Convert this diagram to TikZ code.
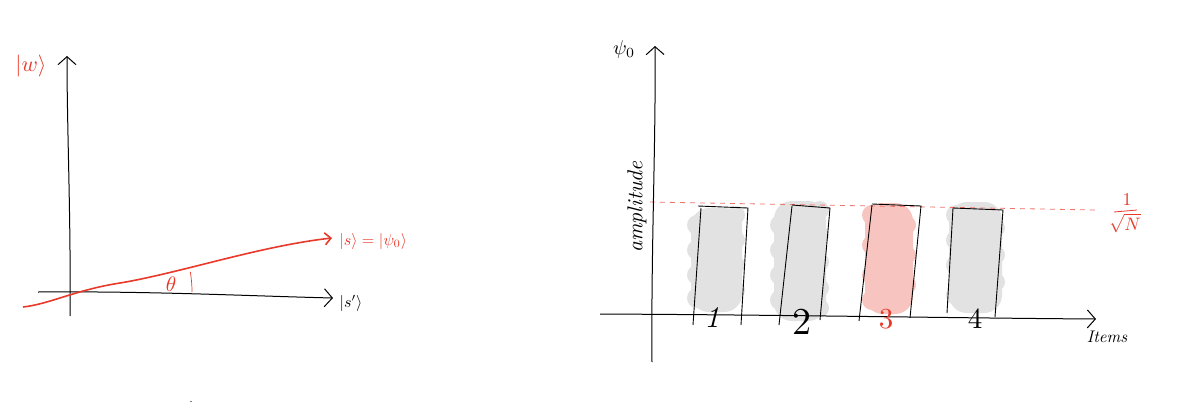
\documentclass[tikz,border=0pt]{standalone}
\usetikzlibrary{arrows.meta}
\definecolor{rd}{HTML}{E8392A}
\definecolor{blobg}{HTML}{E2E2E2}
\definecolor{blobp}{HTML}{F7C4BF}
\begin{document}
\begin{tikzpicture}[x=1pt,y=-1pt,
  ax/.style={line width=1pt,black,-{Straight Barb[length=8pt,width=18pt]}},
  redax/.style={line width=1.6pt,rd,-{Straight Barb[length=6pt,width=12pt]}},
  barline/.style={line width=0.9pt,black},
  lbl/.style={inner sep=0pt,font=\normalsize},
  rlbl/.style={lbl,text=rd}
]
\useasboundingbox[fill=white] (0,0) rectangle (1195,416);

% ---------- left chart ----------
\coordinate (lyb) at (70,316);
\coordinate (lyt) at (67,56);
\coordinate (lxl) at (38,292);
\coordinate (lxr) at (333,298);
\draw[ax] (lyb) .. controls (71,220) and (67,130) .. (lyt);
\draw[ax] (lxl) .. controls (150,291) and (250,296) .. (lxr);
\coordinate (rs) at (23,307);
\coordinate (re) at (332,238);
\draw[redax] (rs) .. controls (50,304) and (75,290) .. (120,283) .. controls (180,273) and (260,246) .. (re);
\draw[rd,line width=0.7pt] (192,292) arc[start angle=0,end angle=-9.5,radius=122];
\node[rlbl,scale=2.1] (theta) at (171,284) {$\theta$};
\node[rlbl,scale=2.2] (w) at (31,66) {$|w\rangle$};
\node[lbl,scale=1.6] (sp) at (351,303) {$|s'\rangle$};
\node[rlbl,anchor=west,scale=1.6] (s) at (339,241) {$|s\rangle = |\psi_0\rangle$};
\fill[gray] (189.5,400.5) rectangle (191.5,402) coordinate (dot);

% ---------- right chart ----------
\coordinate (ryb) at (652,362);
\coordinate (ryt) at (655,46);
\coordinate (rxl) at (600,314);
\coordinate (rxr) at (1096,319);

% blobs
\begin{scope}[blobg]
\fill[rounded corners=18] (691,208) rectangle (742,312);
\foreach \y in {225,250,275,298} {\fill (697,\y) circle (10);}
\foreach \y in {215,240,265,290} {\fill (736,\y) circle (9);}
\fill[rounded corners=18] (774,201) rectangle (826,321);
\foreach \y in {225,250,275,300} {\fill (780,\y) circle (10);}
\foreach \y in {210,235,262,288,308} {\fill (820,\y) circle (9);}
\fill[rounded corners=18] (949,202) rectangle (1002,313);
\foreach \y in {215,240,265,295} {\fill (956,\y) circle (10);}
\foreach \y in {228,255,282} {\fill (996,\y) circle (9);}
\end{scope}
\begin{scope}[blobp]
\fill[rounded corners=18] (865,203) rectangle (913,314);
\foreach \y in {215,245,275,300} {\fill (872,\y) circle (10);}
\foreach \y in {225,255,285} {\fill (907,\y) circle (9);}
\end{scope}

\draw[rd!70,dash pattern=on 5pt off 5pt,line width=0.8pt] (650,202) coordinate (dl) -- (1096,210) coordinate (dr);

\draw[ax] (ryb) .. controls (651,250) and (656,140) .. (ryt);
\draw[ax] (rxl) .. controls (800,315) and (950,318) .. (rxr);

% bars
\draw[barline] (701,208) -- (693,325);
\draw[barline] (698,206) -- (748,208) -- (741,325);
\draw[barline] (792,206) -- (779,325);
\draw[barline] (792,205) -- (830,208) -- (820,320);
\draw[barline] (872,205) -- (859,321);
\draw[barline] (872,204) -- (921,206) -- (910,318);
\draw[barline] (953,208) -- (947,313);
\draw[barline] (953,208) -- (1003,210) -- (995,317);

\node[lbl,scale=3.0] (n1) at (712,318) {\itshape 1};
\node[lbl,scale=3.8] (n2) at (802,322) {2};
\node[rlbl,scale=2.9] (n3) at (886,319) {3};
\node[lbl,scale=2.9] (n4) at (975,319) {4};

\node[lbl,scale=2.0] (psi) at (624,49) {$\psi_0$};
\node[lbl,rotate=90,scale=2.16] (amp) at (637,207) {\itshape amplitude};
\node[lbl,scale=1.68] (items) at (1107,337) {\itshape Items};
\node[rlbl,scale=1.8] (one) at (1127,200) {$1$};
\draw[rd,line width=0.8pt] (1114,212) coordinate (fl) -- (1137,210) coordinate (fr);
\node[rlbl,scale=1.8] (sqn) at (1125,223) {$\sqrt{N}$};
\end{tikzpicture}
\end{document}
